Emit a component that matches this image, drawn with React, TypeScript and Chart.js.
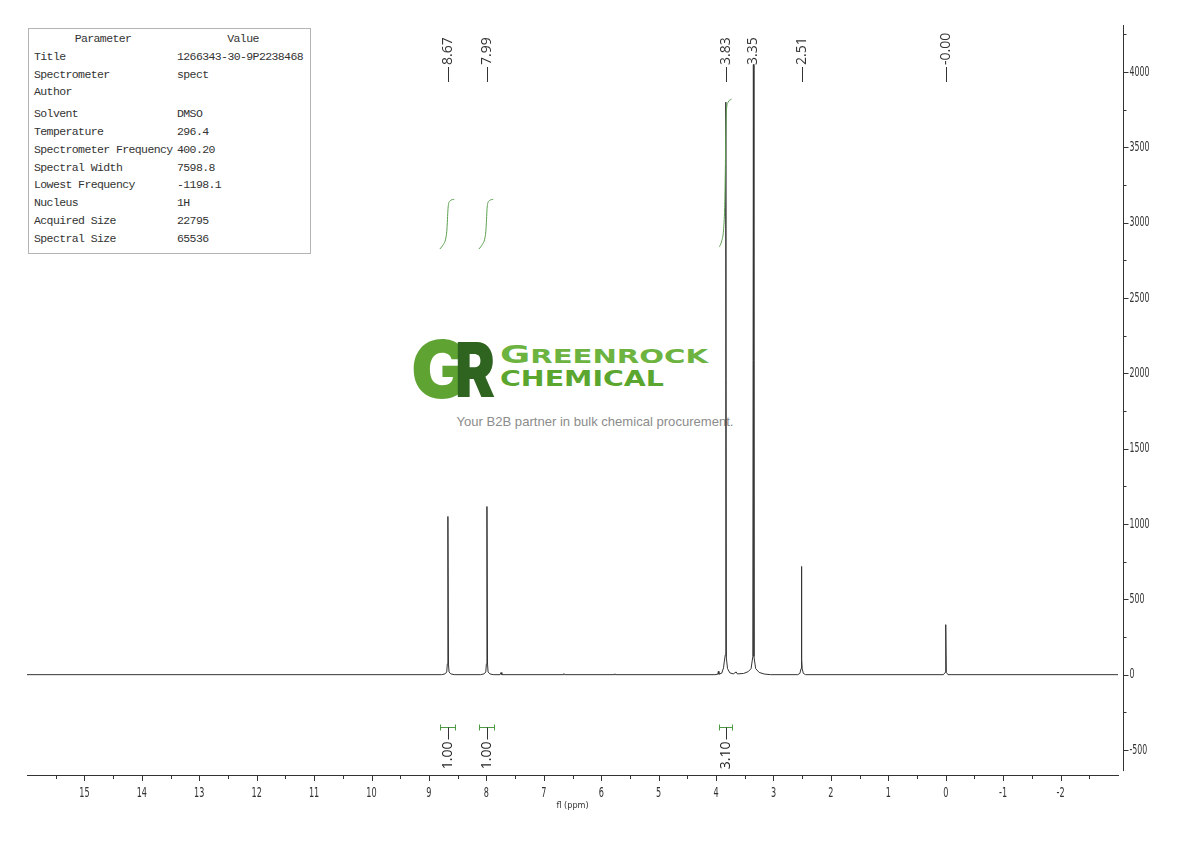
import React, { useEffect, useRef } from "react";
import { Chart, registerables } from "chart.js";

Chart.register(...registerables);

// ---------- data ----------
const spectrumShifts = [
  16.0, 8.78, 8.72, 8.69, 8.68, 8.67, 8.66, 8.65, 8.62, 8.56,
  8.10, 8.04, 8.01, 8.0, 7.99, 7.98, 7.97, 7.94, 7.88,
  7.76, 7.745, 7.73,
  6.66, 6.65, 6.64,
  5.77, 5.76, 5.75,
  4.02, 3.97, 3.96, 3.95, 3.9, 3.87, 3.855, 3.84, 3.83, 3.82, 3.8, 3.76, 3.7, 3.65, 3.63,
  3.52, 3.44, 3.39, 3.36, 3.35, 3.34, 3.31, 3.25, 3.16, 3.05,
  2.58, 2.54, 2.52, 2.515, 2.51, 2.505, 2.5, 2.48, 2.44,
  0.04, 0.01, 0.0, -0.01, -0.04,
  -3.0,
];
const spectrumIntensities = [
  0, 0, 5, 18, 70, 1050, 70, 18, 5, 0,
  0, 5, 18, 70, 1116, 70, 18, 5, 0,
  0, 14, 0,
  0, 7, 0,
  0, 6, 0,
  0, 3, 22, 3, 10, 45, 90, 130, 3800, 110, 40, 12, 5, 18, 5,
  8, 20, 40, 120, 4050, 120, 40, 15, 4, 0,
  0, 8, 40, 100, 718, 100, 40, 8, 0,
  0, 15, 332, 15, 0,
  0,
];

const integralShiftsA = [8.81, 8.75, 8.71, 8.69, 8.68, 8.67, 8.66, 8.63, 8.56];
const integralValuesA = [2825, 2855, 2890, 2940, 3000, 3080, 3120, 3145, 3155];
const integralShiftsB = [8.13, 8.07, 8.03, 8.01, 8.0, 7.99, 7.98, 7.95, 7.88];
const integralValuesB = [2825, 2855, 2890, 2940, 3000, 3080, 3120, 3145, 3155];
const integralShiftsC = [3.94, 3.9, 3.87, 3.85, 3.84, 3.83, 3.82, 3.79, 3.73];
const integralValuesC = [2840, 2880, 2950, 3100, 3300, 3600, 3740, 3800, 3820];

const peakLabelShifts = [8.67, 7.99, 3.83, 3.35, 2.51, 0.0];
const peakLabelTexts = ["8.67", "7.99", "3.83", "3.35", "2.51", "-0.00"];

const integralStarts = [8.81, 8.13, 3.94];
const integralEnds = [8.55, 7.87, 3.72];
const integralTexts = ["1.00", "1.00", "3.10"];
const integralBracketLevel = -345;

const xTickValues = [
  15.5, 15, 14.5, 14, 13.5, 13, 12.5, 12, 11.5, 11, 10.5, 10, 9.5, 9, 8.5, 8, 7.5, 7,
  6.5, 6, 5.5, 5, 4.5, 4, 3.5, 3, 2.5, 2, 1.5, 1, 0.5, 0, -0.5, -1, -1.5, -2, -2.5,
];
const xTickLabels = ["15", "14", "13", "12", "11", "10", "9", "8", "7", "6", "5", "4", "3", "2", "1", "0", "-1", "-2"];
const yTickValues = [
  -500, -250, 0, 250, 500, 750, 1000, 1250, 1500, 1750, 2000, 2250, 2500, 2750, 3000,
  3250, 3500, 3750, 4000, 4250,
];
const yTickLabels = ["-500", "0", "500", "1000", "1500", "2000", "2500", "3000", "3500", "4000"];

const xMin = -3.0;
const xMax = 16;
const yMin = -666;
const yMax = 4312;
const yAxisBottomValue = -640;

const paramNames = [
  "Title",
  "Spectrometer",
  "Author",
  "Solvent",
  "Temperature",
  "Spectrometer Frequency",
  "Spectral Width",
  "Lowest Frequency",
  "Nucleus",
  "Acquired Size",
  "Spectral Size",
];
const paramValues = [
  "1266343-30-9P2238468",
  "spect",
  "",
  "DMSO",
  "296.4",
  "400.20",
  "7598.8",
  "-1198.1",
  "1H",
  "22795",
  "65536",
];

const AXIS_FONT = '"DejaVu Sans", sans-serif';
const LABEL_FONT = '"Open Sans", "Noto Sans", sans-serif';

const toPoints = (xs: number[], ys: number[]) => xs.map((x, i) => ({ x, y: ys[i] }));

const annotationPlugin = {
  id: "nmrAnnotations",
  afterDraw(chart: any) {
    const { ctx, chartArea, scales } = chart;
    const xs = scales.x;
    const ys = scales.y;
    const axisX = Math.round(chartArea.right) + 5.5;
    ctx.save();
    ctx.strokeStyle = "#333";
    ctx.lineWidth = 1;
    ctx.beginPath();
    // separate vertical axis line (offset from x axis end)
    ctx.moveTo(axisX, chartArea.top);
    ctx.lineTo(axisX, ys.getPixelForValue(yAxisBottomValue));
    xs.ticks.forEach((t: any) => {
      const px = Math.round(xs.getPixelForValue(t.value)) + 0.5;
      const len = Number.isInteger(t.value) ? 6 : 4;
      ctx.moveTo(px, chartArea.bottom);
      ctx.lineTo(px, chartArea.bottom + len);
    });
    ys.ticks.forEach((t: any) => {
      const py = Math.round(ys.getPixelForValue(t.value)) + 0.5;
      const len = t.value % 500 === 0 ? 5 : 3;
      ctx.moveTo(axisX, py);
      ctx.lineTo(axisX + len, py);
    });
    ctx.stroke();

    ctx.fillStyle = "#333";
    ctx.font = `14px ${AXIS_FONT}`;
    ctx.textAlign = "center";
    ctx.textBaseline = "middle";
    xTickLabels.forEach((lab) => {
      const px = xs.getPixelForValue(Number(lab));
      ctx.save();
      ctx.translate(px, chartArea.bottom + 18);
      ctx.scale(0.58, 1);
      ctx.fillText(lab, 0, 0);
      ctx.restore();
    });
    ctx.font = `14px ${AXIS_FONT}`;
    ctx.textAlign = "left";
    yTickLabels.forEach((lab) => {
      const py = ys.getPixelForValue(Number(lab));
      ctx.save();
      ctx.translate(axisX + 6, py);
      ctx.scale(0.56, 1);
      ctx.fillText(lab, 0, 0);
      ctx.restore();
    });

    // peak labels at top
    ctx.fillStyle = "#333";
    ctx.font = `14px ${LABEL_FONT}`;
    peakLabelShifts.forEach((p, i) => {
      const px = Math.round(xs.getPixelForValue(p)) + 0.5;
      ctx.beginPath();
      ctx.moveTo(px, 82);
      ctx.lineTo(px, 67);
      ctx.stroke();
      ctx.save();
      ctx.translate(px, 65);
      ctx.rotate(-Math.PI / 2);
      ctx.textAlign = "left";
      ctx.textBaseline = "middle";
      ctx.fillText(peakLabelTexts[i], 0, 0);
      ctx.restore();
    });

    // integral brackets + values
    const by = Math.round(ys.getPixelForValue(integralBracketLevel)) + 0.5;
    integralStarts.forEach((s, i) => {
      const x1 = Math.round(xs.getPixelForValue(s)) + 0.5;
      const x2 = Math.round(xs.getPixelForValue(integralEnds[i])) + 0.5;
      const cx = Math.round((x1 + x2) / 2) + 0.5;
      ctx.strokeStyle = "#4e9a45";
      ctx.beginPath();
      ctx.moveTo(x1, by);
      ctx.lineTo(x2, by);
      ctx.moveTo(x1, by - 3);
      ctx.lineTo(x1, by + 3);
      ctx.moveTo(x2, by - 3);
      ctx.lineTo(x2, by + 3);
      ctx.stroke();
      ctx.strokeStyle = "#333";
      ctx.beginPath();
      ctx.moveTo(cx, by);
      ctx.lineTo(cx, by + 12);
      ctx.stroke();
      ctx.save();
      ctx.translate(cx, by + 14);
      ctx.rotate(-Math.PI / 2);
      ctx.textAlign = "right";
      ctx.textBaseline = "middle";
      ctx.fillStyle = "#222";
      ctx.font = `14px ${LABEL_FONT}`;
      ctx.fillText(integralTexts[i], 0, 0);
      ctx.restore();
    });
    ctx.restore();
  },
};

function NmrChart() {
  const ref = useRef<HTMLCanvasElement | null>(null);
  useEffect(() => {
    if (!ref.current) return;
    const integralStyle = {
      borderColor: "#5a9e4e",
      borderWidth: 1,
      pointRadius: 0,
      cubicInterpolationMode: "monotone" as const,
      fill: false,
      order: 1,
    };
    const chart = new Chart(ref.current, {
      type: "line",
      data: {
        datasets: [
          {
            label: "spectrum",
            data: toPoints(spectrumShifts, spectrumIntensities),
            borderColor: "#333",
            borderWidth: 1,
            pointRadius: 0,
            tension: 0,
            fill: false,
            order: 2,
          },
          { label: "int1", data: toPoints(integralShiftsA, integralValuesA), ...integralStyle },
          { label: "int2", data: toPoints(integralShiftsB, integralValuesB), ...integralStyle },
          { label: "int3", data: toPoints(integralShiftsC, integralValuesC), ...integralStyle },
        ],
      },
      options: {
        animation: false,
        responsive: false,
        maintainAspectRatio: false,
        events: [],
        layout: { padding: { left: 27, right: 0, top: 25, bottom: 26 } },
        plugins: { legend: { display: false }, tooltip: { enabled: false } },
        scales: {
          x: {
            type: "linear",
            min: xMin,
            max: xMax,
            reverse: true,
            position: "bottom",
            grid: { display: false, drawTicks: false },
            border: { display: true, color: "#333", width: 1 },
            ticks: { display: false },
            afterBuildTicks: (s: any) => {
              s.ticks = xTickValues.map((v) => ({ value: v }));
            },
            afterFit: (s: any) => {
              s.height = 40;
            },
            title: {
              display: true,
              text: "fl (ppm)",
              color: "#333",
              font: { family: '"DejaVu Sans Condensed", "DejaVu Sans", sans-serif', size: 9 },
              padding: { top: 0, bottom: 4 },
            },
          },
          y: {
            type: "linear",
            min: yMin,
            max: yMax,
            position: "right",
            grid: { display: false, drawTicks: false },
            border: { display: false },
            ticks: { display: false },
            afterBuildTicks: (s: any) => {
              s.ticks = yTickValues.map((v) => ({ value: v }));
            },
            afterFit: (s: any) => {
              s.width = 72;
            },
          },
        },
      },
      plugins: [annotationPlugin],
    });
    return () => chart.destroy();
  }, []);
  return (
    <canvas
      ref={ref}
      width={1190}
      height={841}
      style={{ position: "absolute", left: 0, top: 0, width: 1190, height: 841 }}
    />
  );
}

function ParamTable() {
  const rowTop = (i: number) => 1 + i * 17.8 + (i >= 4 ? 4 : 0);
  const base: React.CSSProperties = {
    position: "absolute",
    height: 18,
    lineHeight: "18px",
    whiteSpace: "nowrap",
  };
  return (
    <div
      style={{
        position: "absolute",
        left: 28,
        top: 28,
        width: 281,
        height: 224,
        border: "1px solid #b4b4b4",
        background: "#fff",
        fontFamily: '"Liberation Mono", "DejaVu Sans Mono", monospace',
        fontSize: 11.5,
        letterSpacing: "-0.6px",
        color: "#333",
      }}
    >
      <div style={{ ...base, top: rowTop(0), left: 0, width: 148, textAlign: "center" }}>Parameter</div>
      <div style={{ ...base, top: rowTop(0), left: 148, width: 132, textAlign: "center" }}>Value</div>
      {paramNames.map((n, i) => (
        <React.Fragment key={n}>
          <div style={{ ...base, top: rowTop(i + 1), left: 5 }}>{n}</div>
          <div style={{ ...base, top: rowTop(i + 1), left: 148 }}>{paramValues[i]}</div>
        </React.Fragment>
      ))}
    </div>
  );
}

function Watermark() {
  return (
    <svg width={1190} height={841} style={{ position: "absolute", left: 0, top: 0 }}>
      <text x={411} y={398} fontFamily="Inter, 'DejaVu Sans', sans-serif" fontWeight={900} fontSize={80} fill="#5fa332" textLength={60} lengthAdjust="spacingAndGlyphs">G</text>
      <text x={455} y={397} fontFamily="Inter, 'DejaVu Sans', sans-serif" fontWeight={900} fontSize={76} fill="#2f6320" textLength={40} lengthAdjust="spacingAndGlyphs">R</text>
      <text x={500} y={363} fontFamily="'DejaVu Sans', sans-serif" fontWeight="bold" fill="#6cb33f" textLength={208} lengthAdjust="spacingAndGlyphs">
        <tspan fontSize={24}>G</tspan>
        <tspan fontSize={19}>REENROCK</tspan>
      </text>
      <text x={500} y={386} fontFamily="'DejaVu Sans', sans-serif" fontWeight="bold" fontSize={21} fill="#5aa62f" textLength={164} lengthAdjust="spacingAndGlyphs">CHEMICAL</text>
      <text x={595} y={426} textAnchor="middle" fontFamily="'Liberation Sans', Arial, sans-serif" fontSize={13} fill="#8c8c8c" textLength={277} lengthAdjust="spacingAndGlyphs">Your B2B partner in bulk chemical procurement.</text>
    </svg>
  );
}

export default function App() {
  return (
    <div style={{ position: "absolute", left: 0, top: 0, width: 1190, height: 841, background: "#fff", overflow: "hidden" }}>
      <Watermark />
      <NmrChart />
      <ParamTable />
    </div>
  );
}
